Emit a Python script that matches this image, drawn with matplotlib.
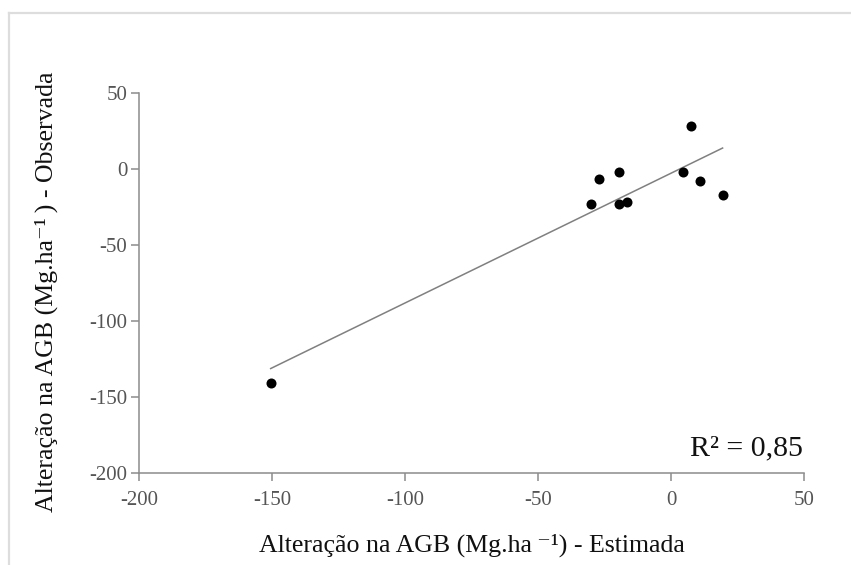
import numpy as np
import matplotlib
matplotlib.use("Agg")
import matplotlib.pyplot as plt
from matplotlib.lines import Line2D

# ---- data ----
estimada = [-30.2, -27.2, -19.7, -19.5, -16.5, 4.5, 7.5, 11.0, 19.4, -150.5]
observada = [-23.1, -6.7, -2.0, -23.3, -22.0, -2.0, 28.1, -7.8, -17.2, -141.2]
x_ticks = [-200, -150, -100, -50, 0, 50]
y_ticks = [-200, -150, -100, -50, 0, 50]
x_label = "Alteração na AGB (Mg.ha\u2009⁻¹) - Estimada"
y_label = "Alteração na AGB (Mg.ha⁻¹\u2009) - Observada"
r2_text = "R² = 0,85"

plt.rcParams['font.family'] = ['Liberation Serif', 'DejaVu Serif']
plt.rcParams['axes.unicode_minus'] = False

W, H = 851, 565
fig = plt.figure(figsize=(W / 100, H / 100), dpi=100)
ax = fig.add_axes([139 / W, 1 - 472.7 / H, (804 - 139) / W, (472.7 - 93) / H])

x = np.array(estimada)
y = np.array(observada)
slope, intercept = np.polyfit(x, y, 1)
xl = np.array([x.min(), x.max()])
ax.plot(xl, slope * xl + intercept, color='#808080', lw=1.1, zorder=2)
ax.scatter(x, y, s=52, color='black', zorder=3, linewidths=0)

ax.set_xlim(-200, 50)
ax.set_ylim(-200, 50)
ax.set_xticks(x_ticks)
ax.set_yticks(y_ticks)
ax.set_xticklabels([str(v) for v in x_ticks])
ax.set_yticklabels([str(v) for v in y_ticks])

for s in ['top', 'right']:
    ax.spines[s].set_visible(False)
for s in ['left', 'bottom']:
    ax.spines[s].set_color('#8c8c8c')
    ax.spines[s].set_linewidth(1.1)
ax.tick_params(axis='both', colors='#8c8c8c', labelcolor='#555555',
               labelsize=15, length=5.5, width=1.1)
ax.tick_params(axis='x', pad=8)
ax.tick_params(axis='y', pad=3)

fig.text(471.5 / W, (H - 551.7) / H, x_label, ha='center', va='baseline',
         fontsize=18.6, color='#111111')
fig.text(46 / W, 1 - 292 / H, y_label, ha='center', va='center', rotation=90,
         fontsize=18.6, color='#111111')
fig.text(803 / W, (H - 455) / H, r2_text, ha='right', va='baseline',
         fontsize=21.5, color='#111111')

# light frame: top and left edges only (others run off the image)
bx, by = 8.5 / W, 1 - 13.3 / H
fig.add_artist(Line2D([bx, 1.0], [by, by], transform=fig.transFigure,
                      color='#dddddd', lw=1.6))
fig.add_artist(Line2D([bx, bx], [0.0, by], transform=fig.transFigure,
                      color='#dddddd', lw=1.6))

fig.savefig('out.png', dpi=100, facecolor='white')
